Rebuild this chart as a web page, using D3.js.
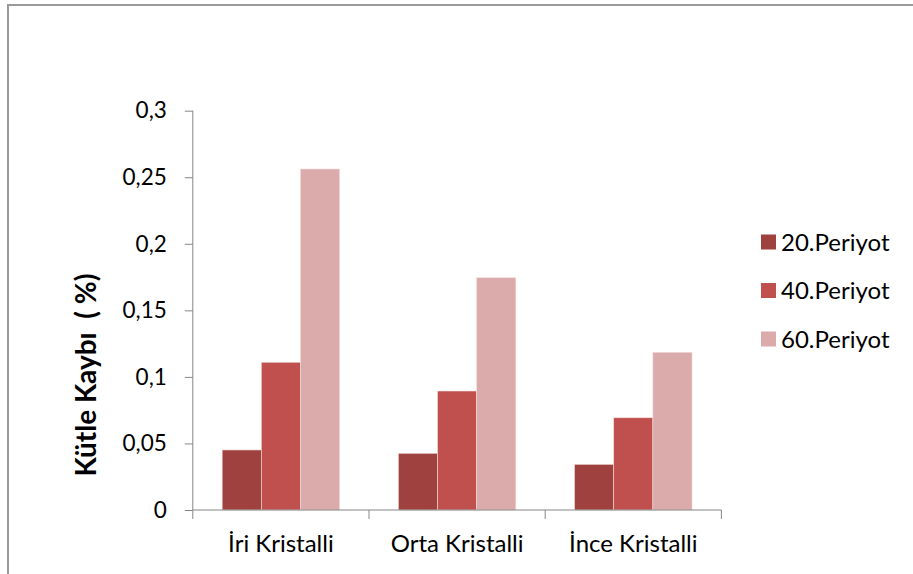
<!DOCTYPE html>
<html><head><meta charset="utf-8">
<script src="https://cdn.jsdelivr.net/npm/d3@7"></script>
<style>
html,body{margin:0;padding:0;background:#fff;}
svg{display:block;}
text{font-family:Lato,"Open Sans",sans-serif;fill:#000;}
</style></head>
<body>
<svg id="chart" width="913" height="574"></svg>
<script>
const categories = ["İri Kristalli", "Orta Kristalli", "İnce Kristalli"];
const seriesNames = ["20.Periyot", "40.Periyot", "60.Periyot"];
const p20 = [0.0451, 0.0426, 0.0343];
const p40 = [0.111, 0.0894, 0.0693];
const p60 = [0.2562, 0.1745, 0.1185];
const yTicks = [0, 0.05, 0.1, 0.15, 0.2, 0.25, 0.3];
const yTickLabels = ["0", "0,05", "0,1", "0,15", "0,2", "0,25", "0,3"];
const colors = ["#9E413F", "#C0504D", "#DBAAAA"];
const seriesValues = [p20, p40, p60];

const svg = d3.select("#chart");
svg.append("rect").attr("x", 8).attr("y", 5).attr("width", 1000).attr("height", 700)
  .attr("fill", "none").attr("stroke", "#9a9a9a").attr("stroke-width", 2);

const pLeft = 192.8, pRight = 721.4, pTop = 110.7, pBottom = 510;
const x0 = d3.scaleBand().domain(categories).range([pLeft, pRight]).paddingInner(0).paddingOuter(0);
const barW = x0.bandwidth() / (3 + 1.5);
const x1 = d3.scaleBand().domain(seriesNames).range([0, barW * 3]);
const y = d3.scaleLinear().domain([0, 0.3]).range([pBottom, pTop]);

const data = [];
categories.forEach((c, i) => seriesNames.forEach((s, j) => data.push({c, s, j, v: seriesValues[j][i]})));

svg.append("g").selectAll("rect").data(data).enter().append("rect")
  .attr("x", d => x0(d.c) + barW * 0.75 + x1(d.s))
  .attr("y", d => y(d.v))
  .attr("width", x1.bandwidth())
  .attr("height", d => pBottom - y(d.v))
  .attr("fill", d => colors[d.j])
  .attr("stroke", "#f2dcdb").attr("stroke-width", 0.6);

const yAxis = d3.axisLeft(y).tickValues(yTicks)
  .tickFormat((d, i) => yTickLabels[i]).tickSize(8).tickPadding(18);
const gy = svg.append("g").attr("transform", `translate(${pLeft},0)`).call(yAxis);
gy.select(".domain").attr("stroke", "#868686").attr("d", `M0,${pTop}V${pBottom}`);
gy.selectAll(".tick line").attr("stroke", "#868686");
gy.selectAll(".tick text").style("font-size", "22.5px").attr("fill", "#000");

const xAxis = d3.axisBottom(x0).tickSize(0).tickPadding(25);
const gx = svg.append("g").attr("transform", `translate(0,${pBottom})`).call(xAxis);
gx.select(".domain").attr("stroke", "#868686").attr("d", `M${pLeft},0H${pRight}`);
gx.selectAll(".tick text").style("font-size", "24px").attr("fill", "#000");
const bounds = categories.map(c => x0(c)).concat([pRight]);
gx.selectAll(".btick").data(bounds).enter().append("line")
  .attr("x1", d => d).attr("x2", d => d).attr("y1", 0).attr("y2", 9)
  .attr("stroke", "#868686");

svg.append("text").attr("transform", "translate(96,375) rotate(-90)")
  .attr("text-anchor", "middle").style("font-size", "28px").style("font-weight", "bold")
  .attr("xml:space", "preserve").text("Kütle Kaybı  ( %)");

const leg = svg.append("g");
seriesNames.forEach((s, i) => {
  const cy = 242 + i * 48.5;
  leg.append("rect").attr("x", 761).attr("y", cy - 7.5).attr("width", 15).attr("height", 15).attr("fill", colors[i]);
  leg.append("text").attr("x", 781).attr("y", cy + 8.5).style("font-size", "24px").text(s);
});
</script>
</body></html>
